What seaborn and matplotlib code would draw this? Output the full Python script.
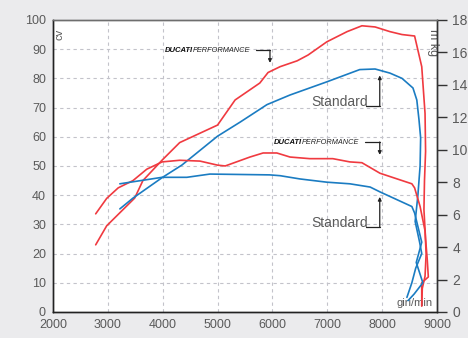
import matplotlib
matplotlib.use("Agg")
import matplotlib.pyplot as plt
import seaborn as sns

# power (cv) curves - rpm / cv
perf_pow_rpm = [2780, 2980, 3490, 3640, 3990, 4310, 5000, 5320, 5770, 5920, 6140, 6450, 6650, 6990,
                7360, 7630, 7870, 8140, 8360, 8590, 8720, 8780, 8790, 8770, 8760, 8790, 8820, 8840, 8720, 8720]
perf_pow_cv = [23, 29.5, 39, 45, 52, 58, 64, 72.6, 78.4, 82, 84, 86, 88, 92.5,
               96, 98, 97.6, 96, 95, 94.5, 84, 68, 55, 45, 35, 25, 18, 12, 10, 2]

std_pow_rpm = [3220, 3460, 3990, 4350, 5000, 5410, 5900, 6320, 6990, 7590, 7870, 8140, 8360, 8560,
               8630, 8670, 8700, 8690, 8650, 8600, 8680, 8720, 8610, 8540, 8450]
std_pow_cv = [35.3, 39, 46, 50.3, 60.2, 65, 71, 74.3, 78.8, 83, 83.2, 81.8, 80, 76.7,
              72.6, 65.8, 59.6, 50, 40, 31, 24, 20, 15, 10, 5]

# torque (kgm) curves
perf_tq_rpm = [2780, 2980, 3190, 3460, 3710, 3990, 4310, 4680, 5000, 5140, 5590, 5830, 6080, 6320,
               6680, 7100, 7410, 7630, 7960, 8540, 8590, 8690, 8780, 8800, 8780, 8730, 8720]
perf_tq_kgm = [6.05, 7.0, 7.65, 8.1, 8.8, 9.25, 9.35, 9.3, 9.05, 9.0, 9.55, 9.8, 9.8, 9.55,
               9.45, 9.45, 9.25, 9.2, 8.55, 7.9, 7.65, 6.5, 5.0, 3.6, 2.2, 1.45, 0.4]

std_tq_rpm = [3220, 3990, 4440, 4860, 5950, 6140, 6500, 6990, 7410, 7780, 7960, 8540, 8590, 8720,
              8620, 8740, 8580, 8470]
std_tq_kgm = [7.9, 8.3, 8.3, 8.5, 8.45, 8.4, 8.2, 8.0, 7.9, 7.7, 7.4, 6.5, 6.1, 4.3,
              3.05, 1.8, 1.1, 0.7]

red = "#f03a40"
blue = "#1b7cc2"
bg = "#ebebed"
txt = "#5a5a5a"

sns.set_theme(style="white")
plt.rcParams["font.family"] = ["Liberation Sans", "DejaVu Sans"]

fig = plt.figure(figsize=(4.68, 3.38), dpi=100, facecolor=bg)
ax = fig.add_axes([0.113, 0.077, 0.821, 0.864])
ax.set_facecolor("white")
ax2 = ax.twinx()

sns.lineplot(x=perf_pow_rpm, y=perf_pow_cv, ax=ax, sort=False, estimator=None, color=red, lw=1.2)
sns.lineplot(x=std_pow_rpm, y=std_pow_cv, ax=ax, sort=False, estimator=None, color=blue, lw=1.2)
sns.lineplot(x=perf_tq_rpm, y=perf_tq_kgm, ax=ax2, sort=False, estimator=None, color=red, lw=1.2)
sns.lineplot(x=std_tq_rpm, y=std_tq_kgm, ax=ax2, sort=False, estimator=None, color=blue, lw=1.2)

ax.set_xlim(2000, 9000)
ax.set_ylim(0, 100)
ax2.set_ylim(0, 18)
ax.set_xticks(range(2000, 9001, 1000))
ax.set_yticks(range(0, 101, 10))
ax2.set_yticks(range(0, 19, 2))

# dashed grid
for xv in range(3000, 9000, 1000):
    ax.axvline(xv, color="#c3c3ca", lw=0.8, ls=(0, (3, 3)), zorder=0)
for yv in range(10, 100, 10):
    ax.axhline(yv, color="#c3c3ca", lw=0.8, ls=(0, (3, 3)), zorder=0)

ax.tick_params(axis="both", length=0, labelsize=9, labelcolor=txt, pad=5)
ax2.tick_params(axis="y", length=7, width=1, color="#333333", direction="out",
                labelsize=10, labelcolor=txt, pad=4)
ax2.grid(False)

for a in (ax, ax2):
    a.spines["left"].set_color("#222222")
    a.spines["bottom"].set_color("#222222")
    a.spines["right"].set_color("#333333")
    a.spines["top"].set_color("#6e6e6e")
    for s in a.spines.values():
        s.set_linewidth(1.0)

# axis unit labels inside the plot
ax.text(2120, 97, "cv", rotation=90, ha="center", va="top", fontsize=8, color=txt)
ax.text(8920, 97, "m kg", rotation=-90, ha="center", va="top", fontsize=9, color=txt)
ax.text(8920, 3, "giri/min", ha="right", va="center", fontsize=8, color=txt)


def ducati(x, y):
    ax.text(x, y, "DUCATI", ha="right", va="center", fontsize=5.5, fontweight="bold",
            style="italic", color="#111111")
    ax.text(x, y, "PERFORMANCE", ha="left", va="center", fontsize=5.3,
            style="italic", color="#222222")


def bracket(x0, x1, y0, y1):
    ax.plot([x0, x1], [y0, y0], color="#222222", lw=0.9)
    ax.annotate("", xy=(x1, y1), xytext=(x1, y0),
                arrowprops=dict(arrowstyle="-|>", color="#222222", lw=0.9,
                                mutation_scale=5, shrinkA=0, shrinkB=0))


ducati(4550, 89.7)
bracket(5700, 5955, 89.6, 85.3)
ax.text(6700, 72, "Standard", ha="left", va="center", fontsize=10, color=txt)
bracket(7700, 7955, 70.5, 81)
ducati(6535, 58.2)
bracket(7690, 7955, 58.2, 53.8)
ax.text(6700, 30.5, "Standard", ha="left", va="center", fontsize=10, color=txt)
bracket(7700, 7955, 29.1, 39.4)

fig.savefig("out.png", dpi=100, facecolor=bg)
